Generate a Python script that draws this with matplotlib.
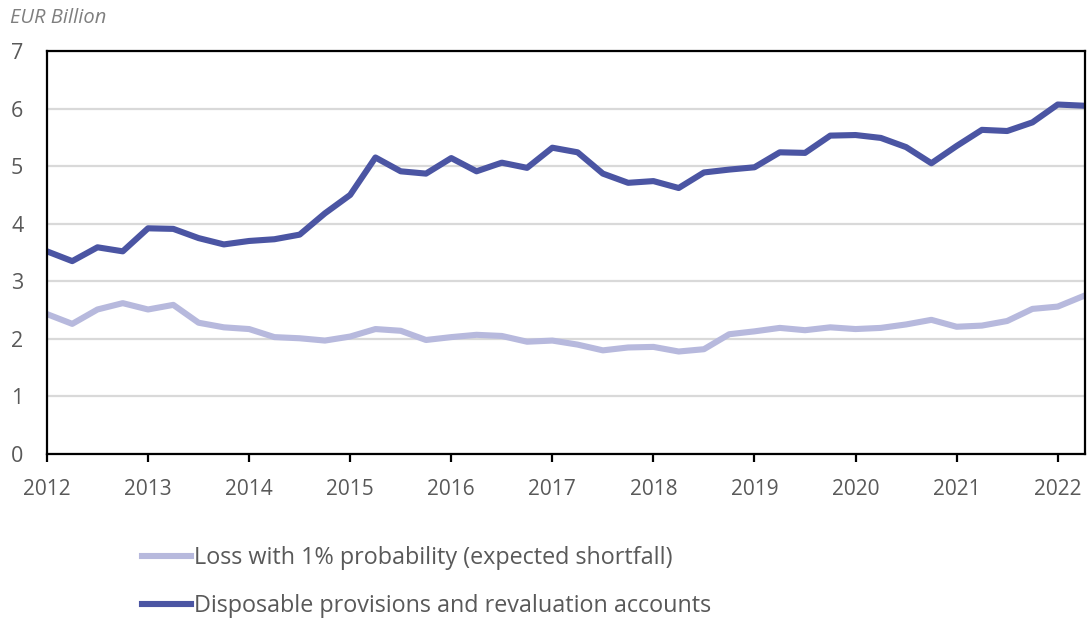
import numpy as np
import matplotlib.pyplot as plt
from matplotlib.lines import Line2D

# quarterly observations, 2012 Q1 .. 2022 Q2
quarters = 2012 + 0.25 * np.arange(42)

loss_es = [2.43, 2.26, 2.51, 2.62, 2.51, 2.59, 2.28, 2.20, 2.17, 2.03,
           2.01, 1.97, 2.04, 2.17, 2.14, 1.98, 2.03, 2.07, 2.05, 1.95,
           1.97, 1.90, 1.80, 1.85, 1.86, 1.78, 1.82, 2.08, 2.13, 2.19,
           2.15, 2.20, 2.17, 2.19, 2.25, 2.33, 2.21, 2.23, 2.31, 2.52,
           2.56, 2.74]

provisions = [3.52, 3.35, 3.59, 3.52, 3.92, 3.91, 3.75, 3.64, 3.70, 3.73,
              3.81, 4.18, 4.50, 5.15, 4.91, 4.87, 5.14, 4.91, 5.06, 4.97,
              5.32, 5.24, 4.87, 4.71, 4.74, 4.62, 4.89, 4.94, 4.98, 5.24,
              5.23, 5.53, 5.54, 5.49, 5.33, 5.05, 5.35, 5.63, 5.61, 5.76,
              6.07, 6.05]

years = list(range(2012, 2023))
labels = ["Loss with 1% probability (expected shortfall)",
          "Disposable provisions and revaluation accounts"]

light = "#b7b9dd"
dark = "#4b55a3"
txt = "#595959"

plt.rcParams['font.family'] = ['Open Sans', 'DejaVu Sans']

fig = plt.figure(figsize=(10.92, 6.18), dpi=100)
ax = fig.add_axes([0.043, 0.2654, 0.9506, 0.6521])

ax.plot(quarters, loss_es, color=light, lw=4.4, solid_joinstyle='round')
ax.plot(quarters, provisions, color=dark, lw=4.4, solid_joinstyle='round')

ax.set_xlim(2012, 2022.27)
ax.set_ylim(0, 7)
ax.set_xticks(years)
ax.set_yticks(range(0, 8))
ax.yaxis.grid(True, color="#d9d9d9", lw=1.6)
ax.set_axisbelow(True)
for s in ax.spines.values():
    s.set_color("black")
    s.set_linewidth(1.6)
ax.tick_params(axis='x', direction='out', length=6, width=1.6, color='black',
               labelsize=15, labelcolor=txt, pad=12)
ax.tick_params(axis='y', length=0, labelsize=15.5, labelcolor=txt, pad=17)

fig.text(0.009, 0.971, "EUR Billion", style='italic', fontsize=14.5,
         color="#7f7f7f", va='center')

handles = [Line2D([], [], color=light, lw=4.4),
           Line2D([], [], color=dark, lw=4.4)]
fig.legend(handles, labels, loc='center left', bbox_to_anchor=(0.13, 0.058),
           frameon=False, fontsize=16.8, labelcolor=txt, handlelength=2.1,
           handletextpad=0.15, labelspacing=1.0, borderaxespad=0, borderpad=0)

fig.savefig("out.png", dpi=100)
